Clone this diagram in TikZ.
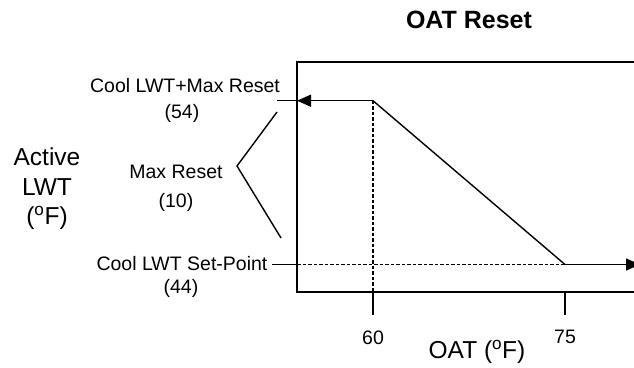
\documentclass[tikz,border=0pt]{standalone}
\usepackage{fontspec}
\setmainfont{Liberation Sans}
\usetikzlibrary{arrows.meta}
\begin{document}
\begin{tikzpicture}[x=1pt,y=-1pt,
  lbl/.style={inner sep=0pt,font=\fontsize{19.5}{22}\selectfont},
  big/.style={inner sep=0pt,font=\fontsize{24.5}{28}\selectfont},
  ttl/.style={inner sep=0pt,font=\fontsize{25}{28}\selectfont\bfseries},
  ln/.style={line width=1.4pt},
  dsh/.style={line width=1.4pt,dash pattern=on 3.5pt off 2pt},
  tip/.style={-{Triangle[length=14pt,width=12pt]}}]
\useasboundingbox (0,0) rectangle (634,367);
\clip (0,0) rectangle (634,367);
% frame
\coordinate (tl) at (297,62);
\coordinate (bl) at (297,292);
\coordinate (tr) at (660,62);
\coordinate (br) at (660,292);
\draw[ln] (tr) -- (tl) -- (bl) -- (br);
% curve points
\coordinate (hi) at (373,100.7);
\coordinate (lo) at (565,264.5);
\coordinate (hiL) at (297,100.7);
\coordinate (hiOut) at (277,100.7);
\coordinate (loL) at (297,264.5);
\coordinate (loOut) at (272,264.5);
\coordinate (loR) at (640,264.5);
\coordinate (t60) at (373,292);
\coordinate (t60b) at (373,315);
\coordinate (t75) at (565,292);
\coordinate (t75b) at (565,315);
\draw[ln,tip] (hi) -- (hiL);
\draw[ln] (hiL) -- (hiOut);
\draw[ln] (hi) -- (lo);
\draw[ln,tip] (lo) -- (loR);
\draw[dsh] (loL) -- (lo);
\draw[ln] (loOut) -- (loL);
\draw[dsh] (hi) -- (t60);
\draw[ln] (t60) -- (t60b);
\draw[ln] (t75) -- (t75b);
% bracket
\coordinate (b1) at (277,112);
\coordinate (b2) at (237,166);
\coordinate (b3) at (281,238);
\draw[ln] (b1) -- (b2) -- (b3);
% texts
\node[ttl] (title) at (469,20) {OAT Reset};
\node[big] (act1) at (47,157) {Active};
\node[big] (act2) at (47,187) {LWT};
\node[big] (act3) at (47,218) {(\textsuperscript{o}F)};
\node[lbl] (maxlbl) at (185,86) {Cool LWT+Max Reset};
\node[lbl] (v54) at (182,113) {(54)};
\node[lbl] (mr) at (176,172) {Max Reset};
\node[lbl] (v10) at (176,202) {(10)};
\node[lbl] (sp) at (182,264) {Cool LWT Set-Point};
\node[lbl] (v44) at (181,288) {(44)};
\node[lbl] (x60) at (373,338) {60};
\node[lbl] (x75) at (565,337) {75};
\node[big] (oat) at (477,352) {OAT (\textsuperscript{o}F)};
\end{tikzpicture}
\end{document}
